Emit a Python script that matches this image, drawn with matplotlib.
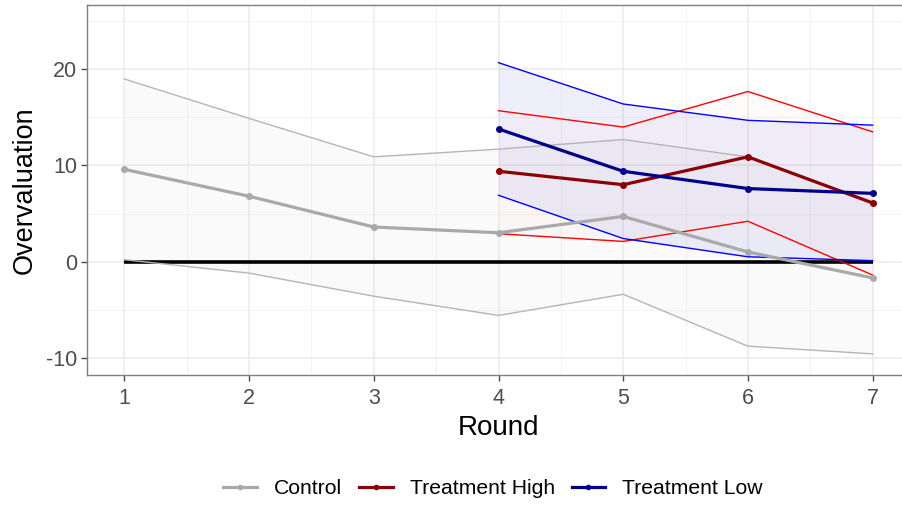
import matplotlib
matplotlib.use("Agg")
import matplotlib.pyplot as plt
from matplotlib.lines import Line2D
import numpy as np

plt.rcParams['font.family'] = ['Liberation Sans', 'DejaVu Sans']

rounds_ctrl = [1, 2, 3, 4, 5, 6, 7]
ctrl_mean = [9.6, 6.8, 3.6, 3.0, 4.7, 1.0, -1.7]
ctrl_upper = [19.0, 14.9, 10.9, 11.7, 12.7, 10.9, 6.2]
ctrl_lower = [0.2, -1.2, -3.6, -5.6, -3.4, -8.8, -9.6]

rounds_trt = [4, 5, 6, 7]
high_mean = [9.4, 8.0, 10.9, 6.1]
high_upper = [15.7, 14.0, 17.7, 13.5]
high_lower = [2.9, 2.1, 4.2, -1.4]
low_mean = [13.8, 9.4, 7.6, 7.1]
low_upper = [20.7, 16.4, 14.7, 14.2]
low_lower = [6.9, 2.4, 0.5, 0.1]

legend_labels = ["Control", "Treatment High", "Treatment Low"]
x_ticks = [1, 2, 3, 4, 5, 6, 7]
y_ticks = [-10, 0, 10, 20]

col_ctrl, col_ctrl_edge = '#A9A9A9', '#B5B5B5'
col_high, col_high_edge = '#8B0000', '#FF0000'
col_low, col_low_edge = '#00008B', '#0000FF'

fig = plt.figure(figsize=(9.02, 5.05), dpi=100)
ax = fig.add_axes([87/902, 1-375/505, (910-87)/902, (375-5)/505])

ax.set_xlim(0.7, 7.3)
ax.set_ylim(-11.8, 26.7)

# grid
for x in np.arange(1.5, 7.0, 1.0):
    ax.axvline(x, color='#F2F2F2', lw=0.6, zorder=0)
for y in [-5, 5, 15, 25]:
    ax.axhline(y, color='#F2F2F2', lw=0.6, zorder=0)
for x in x_ticks:
    ax.axvline(x, color='#EBEBEB', lw=1.1, zorder=0)
for y in y_ticks:
    ax.axhline(y, color='#EBEBEB', lw=1.1, zorder=0)

# ribbons
ax.fill_between(rounds_ctrl, ctrl_lower, ctrl_upper, color='#D9D9D9', alpha=0.12, lw=0, zorder=1)
ax.fill_between(rounds_trt, high_lower, high_upper, color='#FF8C66', alpha=0.03, lw=0, zorder=1)
ax.fill_between(rounds_trt, low_lower, low_upper, color='#5050E0', alpha=0.09, lw=0, zorder=1)

# zero line
ax.plot([rounds_ctrl[0], rounds_ctrl[-1]], [0, 0], color='black', lw=2.6, zorder=2, solid_capstyle='butt')

# ribbon edges
for xs, up, lo, c in [(rounds_ctrl, ctrl_upper, ctrl_lower, col_ctrl_edge),
                      (rounds_trt, high_upper, high_lower, col_high_edge),
                      (rounds_trt, low_upper, low_lower, col_low_edge)]:
    ax.plot(xs, up, color=c, lw=1.0, zorder=3)
    ax.plot(xs, lo, color=c, lw=1.0, zorder=3)

# means
ax.plot(rounds_ctrl, ctrl_mean, color=col_ctrl, lw=2.3, marker='o', ms=4, zorder=4)
ax.plot(rounds_trt, high_mean, color=col_high, lw=2.3, marker='o', ms=4, zorder=4)
ax.plot(rounds_trt, low_mean, color=col_low, lw=2.3, marker='o', ms=4, zorder=4)

ax.set_xticks(x_ticks)
ax.set_xticklabels([str(v) for v in x_ticks])
ax.set_yticks(y_ticks)
ax.set_yticklabels([str(v) for v in y_ticks])
ax.tick_params(axis='both', colors='#4D4D4D', labelsize=15.5, length=4, width=1.0)
ax.tick_params(axis='x', pad=5)
ax.tick_params(axis='y', pad=3)
for s in ax.spines.values():
    s.set_color('#7F7F7F')
    s.set_linewidth(1.0)

ax.set_xlabel("Round", fontsize=20, labelpad=5)
ax.set_ylabel("Overvaluation", fontsize=19.5, labelpad=6)

handles = [Line2D([], [], color=c, lw=2.3, marker='o', ms=3) for c in [col_ctrl, col_high, col_low]]
fig.legend(handles, legend_labels, loc='center', bbox_to_anchor=(493/902, 1-489/505), ncol=3,
           frameon=False, fontsize=15.2, handlelength=1.6, handletextpad=0.8, columnspacing=0.8)

fig.savefig("out.png", dpi=100)
